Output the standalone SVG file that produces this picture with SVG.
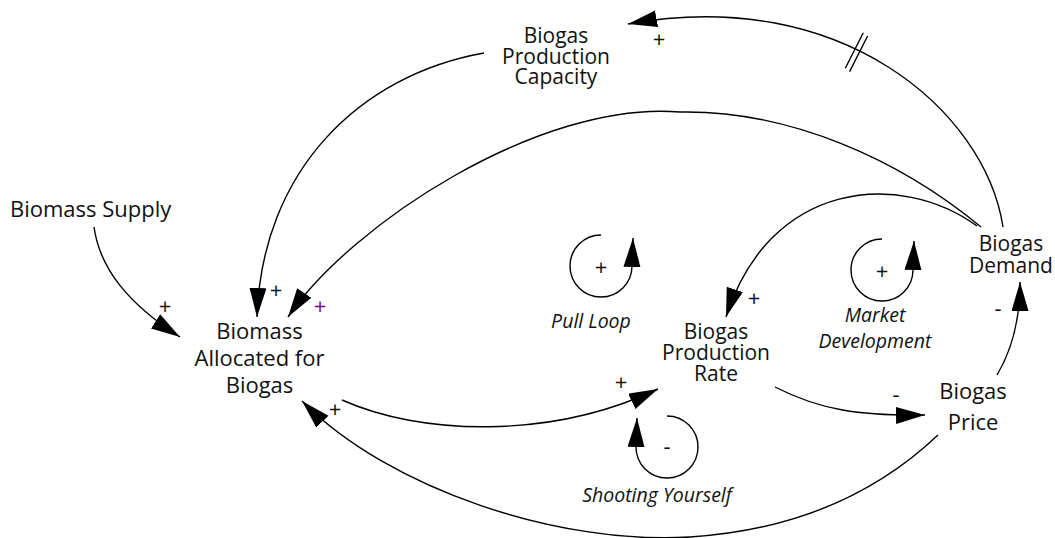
<svg xmlns="http://www.w3.org/2000/svg" width="1055" height="538" viewBox="0 0 1055 538">
<style>
  .node { font-family: "Open Sans", "Liberation Sans", sans-serif; fill: #111; text-anchor: middle; }
  .loop { font-family: "Open Sans", "Liberation Sans", sans-serif; font-style: italic; fill: #111; text-anchor: middle; font-size: 19.5px; }
  .sign { font-family: "Open Sans", "Liberation Sans", sans-serif; fill: #111; text-anchor: middle; font-size: 22px; }
  .link { fill: none; stroke: #000; stroke-width: 1.4; marker-end: url(#ah); }
  .plain { fill: none; stroke: #000; stroke-width: 1.4; }
</style>
<defs>
  <marker id="ah" markerUnits="userSpaceOnUse" markerWidth="30" markerHeight="18" refX="29" refY="8.5" orient="auto">
    <path d="M0,0 L29,8.5 L0,17 z" fill="#000"/>
  </marker>
</defs>
<rect width="1055" height="538" fill="#fff"/>

<g id="connectors">
  <path class="link" d="M94,227 C100,270 130,305 180,337"/>
  <path class="link" d="M484,53 C360,75 262,170 257,317"/>
  <path class="link" d="M981,227 C900,160 790,110 680,112 C540,100 350,225 288,317"/>
  <path class="link" d="M1003,227 C985,110 840,-15 628,24"/>
  <path class="link" d="M977,226 C900,170 770,180 726,317"/>
  <path class="link" d="M342,400 C420,435 550,440 658,389"/>
  <path class="link" d="M775,387 C820,410 860,416 925,415"/>
  <path class="link" d="M997,375 C1012,350 1020,320 1020,282"/>
  <path class="link" d="M938,435 C880,490 800,530 690,537 C560,545 390,490 302,401"/>
  <path class="plain" d="M845.3,68.3 L863.3,32.7 M849.6,71.6 L867.6,36"/>
  <text class="sign" x="659" y="47">+</text>
  <text class="sign" x="165" y="314">+</text>
  <text class="sign" x="276" y="297.5">+</text>
  <text class="sign" x="320" y="314" style="fill:#800080">+</text>
  <text class="sign" x="335" y="416.5">+</text>
  <text class="sign" x="621" y="390">+</text>
  <text class="sign" x="754" y="305.5">+</text>
  <text class="sign" x="896" y="402">-</text>
  <text class="sign" x="998" y="316">-</text>
</g>

<g id="loop-pull">
  <path class="link" d="M601,235 A31,31 0 1 0 632,266 L633,238"/>
  <text class="sign" x="601" y="275">+</text>
  <text class="loop" x="591" y="328">Pull Loop</text>
</g>
<g id="loop-market">
  <path class="link" d="M882,239 A31,31 0 1 0 913,270 L914,241"/>
  <text class="sign" x="882" y="279">+</text>
  <text class="loop" x="875" y="322">Market</text>
  <text class="loop" x="875" y="348">Development</text>
</g>
<g id="loop-shooting">
  <path class="link" d="M667,416 A31,31 0 1 1 636,447 L637,418"/>
  <text class="sign" x="667" y="454">-</text>
  <text class="loop" x="657" y="502">Shooting Yourself</text>
</g>

<g id="node-capacity">
  <text class="node" font-size="21" x="556" y="43">Biogas</text>
  <text class="node" font-size="21" x="556" y="63.5">Production</text>
  <text class="node" font-size="21" x="556" y="83.5">Capacity</text>
</g>
<g id="node-supply">
  <text class="node" font-size="22" x="10" y="217" style="text-anchor:start">Biomass Supply</text>
</g>
<g id="node-allocated">
  <text class="node" font-size="22" x="259.5" y="339">Biomass</text>
  <text class="node" font-size="22" x="259.5" y="366">Allocated for</text>
  <text class="node" font-size="22" x="259.5" y="393">Biogas</text>
</g>
<g id="node-rate">
  <text class="node" font-size="21" x="716" y="338.5">Biogas</text>
  <text class="node" font-size="21" x="716" y="359.5">Production</text>
  <text class="node" font-size="21" x="716" y="380.5">Rate</text>
</g>
<g id="node-demand">
  <text class="node" font-size="21" x="1011" y="251">Biogas</text>
  <text class="node" font-size="21" x="1011" y="272.7">Demand</text>
</g>
<g id="node-price">
  <text class="node" font-size="22" x="973" y="399">Biogas</text>
  <text class="node" font-size="22" x="973" y="430">Price</text>
</g>
</svg>
